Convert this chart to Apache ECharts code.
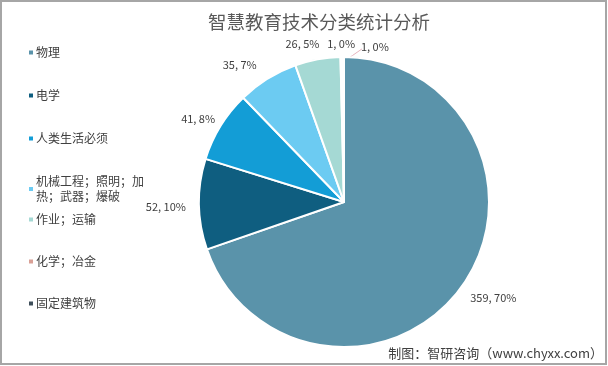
<!DOCTYPE html>
<html><head><meta charset="utf-8">
<script src="https://cdn.jsdelivr.net/npm/echarts@6/dist/echarts.min.js"></script>
<style>html,body{margin:0;padding:0;background:#fff}#c{width:608px;height:366px}</style>
</head><body><div id="c"></div>
<script>
var categories = ['物理','电学','人类生活必须','机械工程；照明；加热；武器；爆破','作业；运输','化学；冶金','固定建筑物'];
var values = [359, 52, 41, 35, 26, 1, 1];
var percents = ['70%','10%','8%','7%','5%','0%','0%'];
var colors = ['#5A93AA','#0F5E80','#139DD6','#6CCBF2','#A5D9D4','#D9A096','#3E4E5A'];
var titleText = '智慧教育技术分类统计分析';
var sourceText = '制图：智研咨询（www.chyxx.com）';

var font = '"Noto Sans CJK SC", "Microsoft YaHei", sans-serif';
var CX = 344, CY = 202, R = 145, GAP = 9;
// label nudges [dx, dy] to mimic the original's label placement
var nudges = [[6,-6],[-4,2],[0,7],[-16,5],[-12,2],[0,2],[0,4]];
var chart = echarts.init(document.getElementById('c'));
var last = values.length-1;
var data = categories.map(function(n,i){
  var d = {name:n, value:values[i], itemStyle:{color:colors[i]}};
  if (i === last) d.labelLine = {show:true, lineStyle:{color:'#E8B4BE', width:1}};
  return d;
});
var legendText = {fontFamily:font, fontSize:12, color:'#404040', lineHeight:15, padding:[0,0,0,-3]};
var legendFmt = function(n){ return n === categories[3] ? '机械工程；照明；加\n热；武器；爆破' : n; };
chart.setOption({
  animation:false,
  title:{text:titleText, left:314, top:8, textAlign:'center',
    textStyle:{fontFamily:font, fontSize:18.5, fontWeight:'normal', color:'#595959'}},
  legend:[
    {orient:'vertical', left:22, top:40, itemWidth:6, itemHeight:6, itemGap:28, icon:'rect',
     data:categories.slice(0,4), textStyle:legendText, formatter:legendFmt},
    {orient:'vertical', left:22, top:207, itemWidth:6, itemHeight:6, itemGap:27, icon:'rect',
     data:categories.slice(4), textStyle:legendText, formatter:legendFmt}
  ],
  graphic:[
    {type:'rect', shape:{x:1, y:1, width:605, height:363}, style:{fill:'none', stroke:'#a6a6a6', lineWidth:2}},
    {type:'text', right:5, bottom:6, style:{text:sourceText, font:'13px '+font, fill:'#404040'}}
  ],
  series:[{
    type:'pie', center:[CX,CY], radius:R, startAngle:90, clockwise:true,
    avoidLabelOverlap:false,
    itemStyle:{borderColor:'#fff', borderWidth:2},
    label:{show:true, position:'outside', fontFamily:font, fontSize:11, color:'#404040',
      formatter:function(p){ return p.value + ', ' + percents[p.dataIndex]; }},
    labelLine:{show:false, length:8, length2:4},
    labelLayout:function(p){
      var pts = p.labelLinePoints;
      if (!pts) return {};
      var dx = pts[0][0]-CX, dy = pts[0][1]-CY;
      var d = Math.sqrt(dx*dx+dy*dy) || 1;
      var ux = dx/d, uy = dy/d;
      var w = p.labelRect.width, h = p.labelRect.height;
      var off = R + GAP + Math.abs(ux)*w/2 + Math.abs(uy)*h/2;
      var x = CX + ux*off, y = CY + uy*off;
      var i = p.dataIndex;
      if (i === last) x += w + 4;
      x += nudges[i][0]; y += nudges[i][1];
      var res = {x:x, y:y, align:'center', verticalAlign:'middle'};
      if (i === last) {
        var sx = pts[0][0], sy = pts[0][1] + 5;
        var ex = x - w/2 + 1, ey = y + h/2 - 3;
        res.labelLinePoints = [[sx, sy], [(sx+ex)/2, (sy+ey)/2], [ex, ey]];
      }
      return res;
    },
    data:data
  }]
});
</script></body></html>
